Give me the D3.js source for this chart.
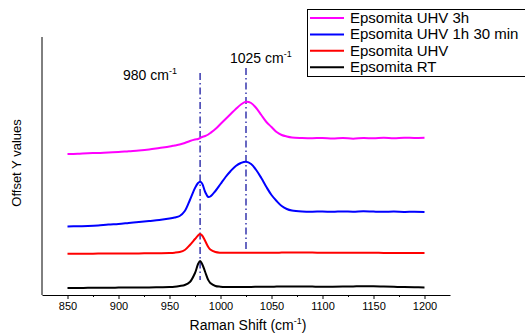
<!DOCTYPE html>
<html><head><meta charset="utf-8">
<script src="https://cdn.jsdelivr.net/npm/d3@7"></script>
<style>body{margin:0;background:#fff;} text{font-family:"Liberation Sans",Arial,sans-serif;}</style>
</head><body>
<svg id="c" width="525" height="335"></svg>
<script>
const ramanShift = [850,860,870,880,890,900,910,920,930,940,950,955,960,965,970,975,978,980,982,985,988,990,995,1000,
 1005,1010,1015,1020,1025,1030,1035,1040,1045,1050,1055,1060,1065,1070,
 1080,1090,1100,1110,1120,1130,1140,1150,1160,1170,1180,1190,1200];

const rt = [7,7,7.2,7.3,7.3,7.4,7.5,7.5,7.6,7.8,8.0,8.3,9,10,13,22,31,34,31,23,15,12,9,8.3,
 8,8,8,8,8,8.1,8.2,8.3,8.3,8.3,8.4,8.4,8.4,8.4,
 8.5,8.4,8.3,8.3,8.4,8.6,8.8,8.8,8.5,8.2,7.9,7.7,7.6];

const uhv = [41.2,41.3,41.3,41.4,41.4,41.5,41.5,41.6,41.7,41.8,42.0,42.3,43,45,50,56,59.5,61,59.5,54,48,45.5,43,42.3,
 42.2,42.2,42.2,42.2,42.2,42.3,42.3,42.3,42.3,42.3,42.3,42.4,42.4,42.4,
 42.4,42.4,42.3,42.3,42.3,42.2,42.2,42.2,42.1,42.1,42.0,42.0,42.0];

const uhv1h30 = [68.5,68.8,69,69.5,70.5,71,72,73,74,75,76.5,77.5,79,84,95,107,112,113.3,111.5,103,98,98.5,104,111,
 118,124,129,132,133.3,131,125,117,108,100,94,89,86,84.5,
 83.5,83.3,83.5,83.2,83.6,83.3,83.7,83.4,83.2,83.4,83.1,83.2,83];

const uhv3h = [141,141.3,141.8,142,142.6,143,143.8,144.5,145.5,147,148.5,149.5,150.5,152,154,155.5,156,157,158,159,160.5,162,166,171,
 176,181,186,190.5,193.3,192,187,180,173,168,163,160,158.5,157.5,
 157,156.8,157,156.5,157,156.3,157,156.7,157.2,156.8,157.3,157,157.3];

const seriesNames = ["Epsomita UHV 3h","Epsomita UHV 1h 30 min","Epsomita UHV","Epsomita RT"];
const seriesData = [uhv3h, uhv1h30, uhv, rt];
const seriesColors = ["#ff00ff","#0000ff","#ff0000","#000000"];

const markerPos = [980, 1025];
const markerTop = [222, 227];
const markerBottom = [15, 45];
const markerLabels = ["980 cm", "1025 cm"];

const xTicks = [850,900,950,1000,1050,1100,1150,1200];
const xMinor = [875,925,975,1025,1075,1125,1175];

const svg = d3.select("#c");
const x = d3.scaleLinear().domain([825,1225]).range([42,450]);
const y = d3.scaleLinear().domain([0,258]).range([295,37]);

// axes
const xAxis = svg.append("g").attr("transform","translate(0,295)")
  .call(d3.axisBottom(x).tickValues(xTicks).tickFormat(d3.format("d")).tickSize(4).tickSizeOuter(0).tickPadding(3));
xAxis.select(".domain").attr("stroke","#000").attr("stroke-width",1);
xAxis.selectAll("text").attr("font-size","11px").attr("fill","#000");
svg.append("g").attr("transform","translate(0,295)")
  .call(d3.axisBottom(x).tickValues(xMinor).tickSize(2).tickFormat(""))
  .select(".domain").remove();
svg.append("line").attr("x1",42).attr("x2",42).attr("y1",37).attr("y2",295).attr("stroke","#000");

// markers
markerPos.forEach((m,i)=>{
  svg.append("line").attr("x1",x(m)).attr("x2",x(m)).attr("y1",y(markerTop[i])).attr("y2",y(markerBottom[i]))
    .attr("stroke","#2828a8").attr("stroke-width",1.4).attr("stroke-dasharray","7,3,1.5,3");
});

// lines
const line = d3.line().x((d,i)=>x(ramanShift[i])).y(d=>y(d)).curve(d3.curveCatmullRom.alpha(0.5));
seriesData.forEach((s,i)=>{
  svg.append("path").attr("d",line(s)).attr("fill","none").attr("stroke",seriesColors[i]).attr("stroke-width",2);
});

// marker labels
const lab1 = svg.append("text").attr("x",123).attr("y",80).attr("font-size","14px");
lab1.append("tspan").text(markerLabels[0]);
lab1.append("tspan").attr("dy",-6).attr("font-size","9px").text("-1");
const lab2 = svg.append("text").attr("x",230).attr("y",63).attr("font-size","14px");
lab2.append("tspan").text(markerLabels[1]);
lab2.append("tspan").attr("dy",-6).attr("font-size","9px").text("-1");

// axis titles
const xt = svg.append("text").attr("x",248).attr("y",330).attr("text-anchor","middle").attr("font-size","14px");
xt.append("tspan").text("Raman Shift  (cm");
xt.append("tspan").attr("dy",-6).attr("font-size","9px").text("-1");
xt.append("tspan").attr("dy",6).text(")");
svg.append("text").attr("transform","translate(21,163) rotate(-90)").attr("text-anchor","middle")
  .attr("font-size","13px").text("Offset Y values");

// legend
svg.append("rect").attr("x",307.5).attr("y",9.5).attr("width",240).attr("height",67)
  .attr("fill","#fff").attr("stroke","#000").attr("stroke-width",1);
seriesNames.forEach((n,i)=>{
  const yy = 18 + i*16.4;
  svg.append("line").attr("x1",310).attr("x2",344).attr("y1",yy).attr("y2",yy)
    .attr("stroke",seriesColors[i]).attr("stroke-width",2);
  svg.append("text").attr("x",350).attr("y",yy+5).attr("font-size","15px").text(n);
});
</script>
</body></html>
